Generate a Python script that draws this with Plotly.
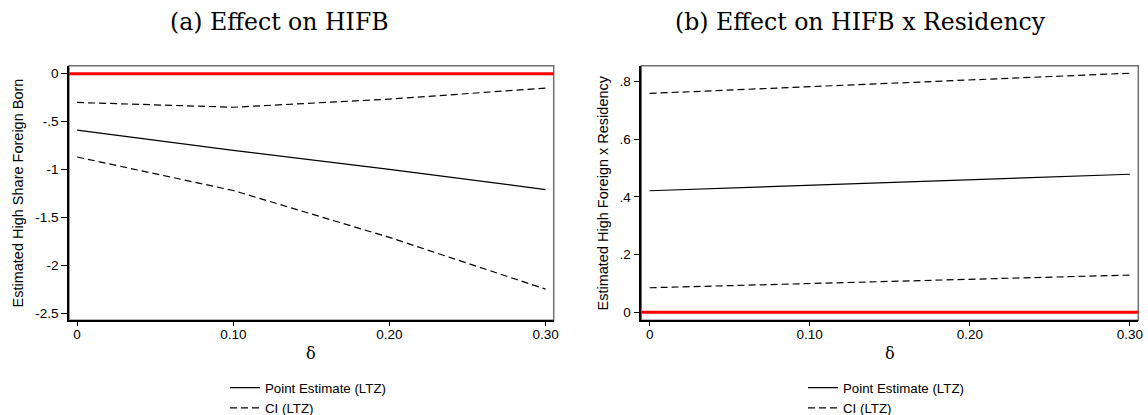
import plotly.graph_objects as go

W, H = 1148, 415

delta = [0.0, 0.10, 0.20, 0.30]
x_tickvals = [0.0, 0.10, 0.20, 0.30]
x_ticktext = ["0", "0.10", "0.20", "0.30"]

# Panel (a): Effect on HIFB
a_point = [-0.59, -0.80, -1.00, -1.21]
a_upper = [-0.30, -0.35, -0.265, -0.15]
a_lower = [-0.87, -1.22, -1.71, -2.25]
a_tickvals = [0, -0.5, -1, -1.5, -2, -2.5]
a_ticktext = ["0", "-.5", "-1", "-1.5", "-2", "-2.5"]

# Panel (b): Effect on HIFB x Residency
b_point = [0.421, 0.440, 0.459, 0.478]
b_upper = [0.758, 0.781, 0.805, 0.828]
b_lower = [0.085, 0.100, 0.114, 0.129]
b_tickvals = [0, 0.2, 0.4, 0.6, 0.8]
b_ticktext = ["0", ".2", ".4", ".6", ".8"]

SANS = "Liberation Sans, Arial, sans-serif"
SERIF = "DejaVu Serif, serif"

def px(x):
    return x / W

def py(y):
    return 1 - y / H

fig = go.Figure()

line_solid = dict(color="black", width=1.2)
line_dash = dict(color="black", width=1.2, dash="7px,4px")

for (pt, up, lo, xa, ya, lg) in [
    (a_point, a_upper, a_lower, "x", "y", "legend"),
    (b_point, b_upper, b_lower, "x2", "y2", "legend2"),
]:
    fig.add_trace(go.Scatter(x=delta, y=pt, mode="lines", line=line_solid,
                             name="Point Estimate (LTZ)", xaxis=xa, yaxis=ya, legend=lg))
    fig.add_trace(go.Scatter(x=delta, y=up, mode="lines", line=line_dash,
                             name="CI (LTZ)", xaxis=xa, yaxis=ya, legend=lg, legendgroup="ci" + xa))
    fig.add_trace(go.Scatter(x=delta, y=lo, mode="lines", line=line_dash,
                             name="CI (LTZ)", xaxis=xa, yaxis=ya, legend=lg, legendgroup="ci" + xa,
                             showlegend=False))

xcommon = dict(range=[-0.0052, 0.3052], tickvals=x_tickvals, ticktext=x_ticktext,
               ticks="outside", ticklen=4, tickwidth=1, tickcolor="black",
               ticklabelstandoff=-3,
               showline=True, linecolor="black", linewidth=1.5,
               showgrid=False, zeroline=False, automargin=False,
               tickfont=dict(family=SANS, size=13.5, color="black"))
ycommon = dict(ticks="outside", ticklen=6, tickwidth=1, tickcolor="black",
               showline=True, linecolor="black", linewidth=1.5,
               showgrid=False, zeroline=False, automargin=False,
               tickfont=dict(family=SANS, size=13.5, color="black"))

ydom = [py(320.3), py(65.7)]

legend_common = dict(yanchor="bottom", xanchor="left",
                     font=dict(family=SANS, size=13.3, color="black"),
                     itemwidth=30, bgcolor="rgba(0,0,0,0)", tracegroupgap=0)

fig.update_layout(
    width=W, height=H,
    margin=dict(l=0, r=0, t=0, b=0, autoexpand=False),
    paper_bgcolor="white", plot_bgcolor="white",
    xaxis=dict(domain=[px(69), px(553.7)], anchor="y", **xcommon),
    yaxis=dict(domain=ydom, anchor="x", range=[-2.576, 0.084],
               tickvals=a_tickvals, ticktext=a_ticktext, **ycommon),
    xaxis2=dict(domain=[px(641.3), px(1138.3)], anchor="y2", **xcommon),
    yaxis2=dict(domain=ydom, anchor="x2", range=[-0.0277, 0.854],
                tickvals=b_tickvals, ticktext=b_ticktext, **ycommon),
    legend=dict(x=px(225), y=-8.5 / H, **legend_common),
    legend2=dict(x=px(803), y=-8.5 / H, **legend_common),
)

# gray plot-region frame (top/right visible), and zero reference line
for xr, yr in [("x", "y"), ("x2", "y2")]:
    fig.add_shape(type="rect", xref=xr + " domain", yref=yr + " domain",
                  x0=0, x1=1, y0=0, y1=1, line=dict(color="#707070", width=1.5),
                  layer="below")
    fig.add_shape(type="line", xref=xr + " domain", yref=yr, x0=0, x1=1, y0=0, y1=0,
                  line=dict(color="#ff0000", width=3), layer="above")

ann = dict(xref="paper", yref="paper", showarrow=False, xanchor="center", yanchor="middle")

# titles
fig.add_annotation(text="(a) Effect on HIFB", x=px(279.5), y=py(22),
                   font=dict(family=SERIF, size=23.6, color="black"), **ann)
fig.add_annotation(text="(b) Effect on HIFB x Residency", x=px(860.5), y=py(22),
                   font=dict(family=SERIF, size=23.6, color="black"), **ann)

# x axis titles
for cx in [311, 890]:
    fig.add_annotation(text="δ", x=px(cx), y=py(353),
                       font=dict(family=SERIF, size=16, color="black"), **ann)

# y axis titles
fig.add_annotation(text="Estimated High Share Foreign Born", x=px(17.5), y=py(193), textangle=-90,
                   font=dict(family=SANS, size=14.5, color="black"), **ann)
fig.add_annotation(text="Estimated High Foreign x Residency", x=px(602.5), y=py(193), textangle=-90,
                   font=dict(family=SANS, size=14.5, color="black"), **ann)

fig.write_html("out.html", config={"displayModeBar": False},
               post_script="document.body.style.margin='0';")
